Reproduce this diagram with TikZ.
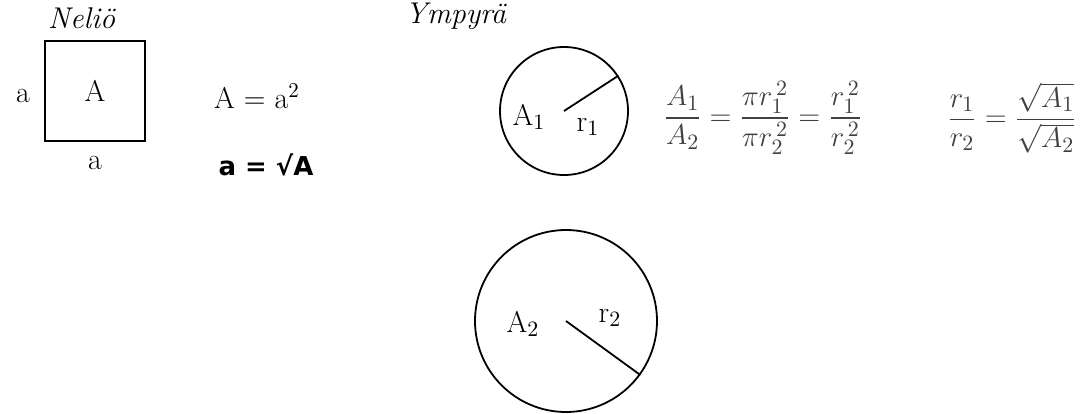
\documentclass[tikz,border=0pt]{standalone}
\usepackage{amsmath}
\usepackage{fontspec}
\newfontfamily\boldsans{DejaVu Sans}
\usetikzlibrary{positioning}

\begin{document}
\begin{tikzpicture}[x=0.5pt, y=-0.5pt, line width=0.9pt,
  txt/.style={font=\fontsize{15}{17}\selectfont, inner sep=0pt},
  ring/.style={circle, draw, inner sep=0pt}]
  \useasboundingbox (0,0) rectangle (1088,413);

  % Square
  \node[txt] (sqtitle) at (82,18) {\textit{Neliö}};
  \node[draw, minimum size=50pt, inner sep=0pt] (sq) at (95,91) {};
  \node[txt] (sqA) at (sq.center) {A};
  \node[txt] (sideL) at (23,96) {a};
  \node[txt] (sideB) at (95,163) {a};
  \node[txt] (area) at (257,96) {A = a\textsuperscript{2}};
  \node[txt, font=\boldsans\bfseries\fontsize{13}{15}\selectfont] (side) at (266,165) {a = √A};

  % Circles
  \node[txt] (ctitle) at (456,16) {\textit{Ympyrä}};
  \node[ring, minimum size=64pt] (c1) at (564,111) {};
  \draw (c1.center) -- (c1.33);
  \node[txt] (c1A) at (529,117) {A$_1$};
  \node[txt] (c1r) at (588,127) {r$_1$};

  \node[ring, minimum size=91pt] (c2) at (566,321) {};
  \draw (c2.center) -- (c2.-36);
  \node[txt] (c2A) at (523,324) {A$_2$};
  \node[txt] (c2r) at (610,318) {r$_2$};

  % Ratios
  \node[txt, text=black!75] (ratio) at (763,118)
    {$\dfrac{A_1}{A_2} = \dfrac{\pi r_1^{\,2}}{\pi r_2^{\,2}} = \dfrac{r_1^{\,2}}{r_2^{\,2}}$};
  \node[txt, text=black!75] (root) at (1012,118)
    {$\dfrac{r_1}{r_2} = \dfrac{\sqrt{A_1}}{\sqrt{A_2}}$};
\end{tikzpicture}
\end{document}
